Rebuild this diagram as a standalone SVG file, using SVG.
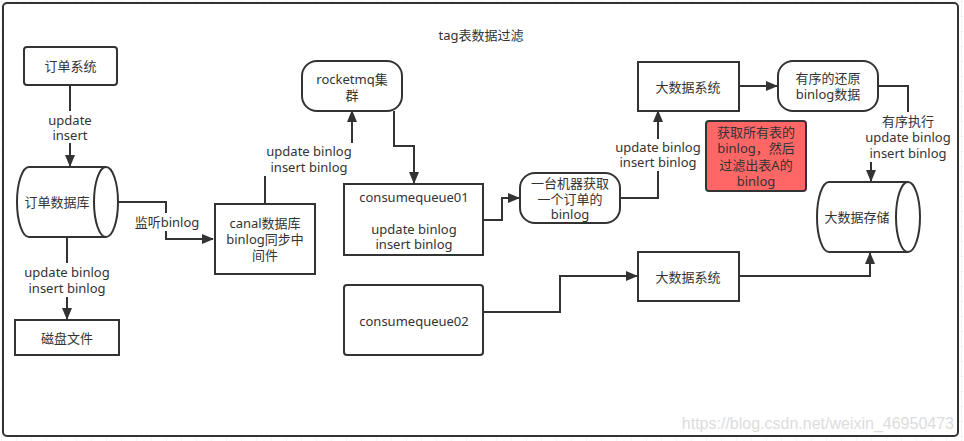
<svg xmlns="http://www.w3.org/2000/svg" width="964" height="441" viewBox="0 0 964 441">
<defs>
<pattern id="grid" width="15" height="15" patternUnits="userSpaceOnUse" x="2" y="2">
<path d="M15,0 V15 M0,15 H15" fill="none" stroke="#eaeaea" stroke-width="1"/>
</pattern>
<marker id="arr" markerUnits="userSpaceOnUse" markerWidth="12" markerHeight="10" refX="11" refY="5" orient="auto">
<path d="M0,0 L12,5 L0,10 Z" fill="#333"/>
</marker>
<style>
.n{fill:#fff;stroke:#333;stroke-width:2}
.red{fill:#ff6666;stroke:#333;stroke-width:2}
.e{fill:none;stroke:#333;stroke-width:2;marker-end:url(#arr)}
.l{fill:none;stroke:#333;stroke-width:2}
.bg{fill:#fff}
text{font-family:"Noto Sans","Noto Sans CJK SC",sans-serif;font-size:13px;fill:#333;text-anchor:middle;dominant-baseline:central}
.wm{font-family:"Liberation Sans",Arial,sans-serif;font-size:16px;fill:#dcdcdc;text-anchor:end;dominant-baseline:auto}
</style>
</defs>
<rect width="964" height="441" fill="#fff"/>
<rect width="964" height="441" fill="url(#grid)"/>
<rect x="3" y="3" width="955" height="433" rx="4" fill="#fff" stroke="#333" stroke-width="2"/>
<text x="481" y="35">tag表数据过滤</text>
<text class="wm" x="954" y="429">https://blog.csdn.net/weixin_46950473</text>

<g id="connectors">
<path class="e" d="M70,85 V166"/>
<rect class="bg" x="44" y="111" width="52" height="32"/>
<text x="70" y="120">update</text>
<text x="70" y="135">insert</text>

<path class="e" d="M67,237 V319"/>
<rect class="bg" x="22" y="263" width="90" height="34"/>
<text x="67" y="272">update binlog</text>
<text x="67" y="288">insert binlog</text>

<path class="e" d="M117,202 H166 V239 H213"/>
<rect class="bg" x="134" y="213" width="66" height="18"/>
<text x="167" y="222">监听binlog</text>

<path class="e" d="M265,204 V159 H352 V111"/>
<rect class="bg" x="264" y="143" width="91" height="33"/>
<text x="309" y="151">update binlog</text>
<text x="309" y="167">insert binlog</text>

<path class="e" d="M394,111 V146 H414 V183"/>

<path class="e" d="M483,220 H502 V198 H519"/>

<path class="e" d="M620,198 H658 V111"/>
<rect class="bg" x="613" y="139" width="90" height="32"/>
<text x="658" y="147">update binlog</text>
<text x="658" y="162">insert binlog</text>

<path class="e" d="M739,86 H777"/>

<path class="e" d="M878,86 H908 V137 H871 V181"/>
<rect class="bg" x="863" y="112" width="90" height="50"/>
<text x="908" y="121">有序执行</text>
<text x="908" y="137">update binlog</text>
<text x="908" y="153">insert binlog</text>

<path class="e" d="M483,312 H560 V276 H637"/>

<path class="e" d="M739,276 H870 V253"/>
</g>

<g id="order-system">
<rect class="n" x="24" y="47" width="93" height="38" rx="3"/>
<text x="70.5" y="66">订单系统</text>
</g>

<g id="order-db">
<path class="n" d="M29,167 H106 A12,35 0 0 1 106,237 H29 A12,35 0 0 1 29,167 Z"/>
<path class="l" d="M106,167 A12,35 0 0 0 106,237"/>
<text x="57" y="202">订单数据库</text>
</g>

<g id="disk-file">
<rect class="n" x="15" y="320" width="104" height="35"/>
<text x="67" y="338">磁盘文件</text>
</g>

<g id="canal">
<rect class="n" x="215" y="204" width="100" height="70"/>
<text x="265" y="223">canal数据库</text>
<text x="265" y="239">binlog同步中</text>
<text x="265" y="255">间件</text>
</g>

<g id="rocketmq">
<rect class="n" x="302" y="61" width="100" height="50" rx="15"/>
<text x="352" y="79">rocketmq集</text>
<text x="352" y="95">群</text>
</g>

<g id="consumequeue01">
<rect class="n" x="344" y="184" width="139" height="71"/>
<text x="414" y="197">consumequeue01</text>
<text x="414" y="229">update binlog</text>
<text x="414" y="244">insert binlog</text>
</g>

<g id="one-machine">
<rect class="n" x="520" y="173" width="100" height="50" rx="15"/>
<text x="570" y="183">一台机器获取</text>
<text x="570" y="199">一个订单的</text>
<text x="570" y="214">binlog</text>
</g>

<g id="bigdata-system-1">
<rect class="n" x="638" y="62" width="101" height="49"/>
<text x="688" y="87">大数据系统</text>
</g>

<g id="ordered-restore">
<rect class="n" x="778" y="61" width="100" height="50" rx="15"/>
<text x="828" y="78">有序的还原</text>
<text x="828" y="94">binlog数据</text>
</g>

<g id="filter-note">
<rect class="red" x="706" y="121" width="100" height="70" rx="3"/>
<text x="756" y="132">获取所有表的</text>
<text x="756" y="148">binlog，然后</text>
<text x="756" y="165">过滤出表A的</text>
<text x="756" y="181">binlog</text>
</g>

<g id="bigdata-storage">
<path class="n" d="M829,182 H908 A12,35 0 0 1 908,252 H829 A12,35 0 0 1 829,182 Z"/>
<path class="l" d="M908,182 A12,35 0 0 0 908,252"/>
<text x="857" y="217">大数据存储</text>
</g>

<g id="consumequeue02">
<rect class="n" x="344" y="285" width="139" height="70" rx="3"/>
<text x="414" y="321">consumequeue02</text>
</g>

<g id="bigdata-system-2">
<rect class="n" x="638" y="252" width="101" height="49"/>
<text x="688" y="277">大数据系统</text>
</g>
</svg>
